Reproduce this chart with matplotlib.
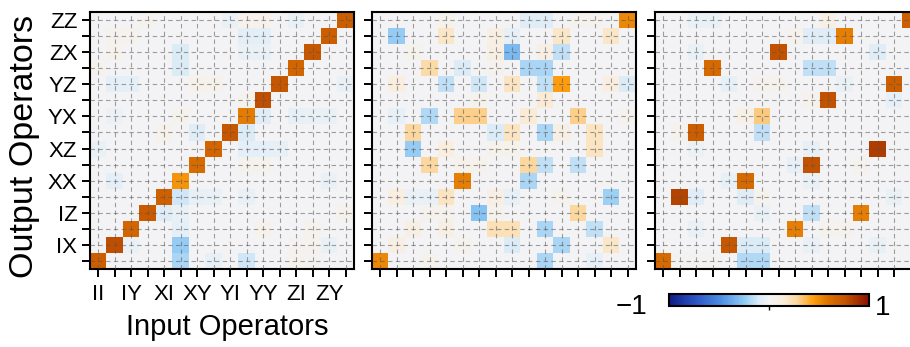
import numpy as np
import matplotlib
matplotlib.use("Agg")
import matplotlib.pyplot as plt
from matplotlib.colors import LinearSegmentedColormap

plt.rcParams['font.family'] = ['Liberation Sans', 'DejaVu Sans']

operators = ['II', 'IX', 'IY', 'IZ', 'XI', 'XX', 'XY', 'XZ',
             'YI', 'YX', 'YY', 'YZ', 'ZI', 'ZX', 'ZY', 'ZZ']

# rows = output operator (bottom to top), columns = input operator
ptm_ideal_like = [
    [0.70, 0, 0, 0, 0, -0.20, 0, -0.05, 0, -0.12, 0, 0, 0.05, 0.03, 0, 0],
    [0, 0.78, -0.04, 0, 0, -0.24, 0, 0, 0, 0, 0, 0, 0.03, 0.05, -0.04, 0],
    [0, 0, 0.66, 0, 0, -0.06, 0, 0, 0, 0, 0.07, 0, 0, 0.04, 0, 0],
    [0, 0, 0, 0.72, -0.08, -0.04, 0, 0, 0, 0, 0, 0, 0, 0, 0, 0.04],
    [0, 0, 0, 0, 0.68, -0.12, -0.05, -0.04, 0, -0.04, 0, 0, 0, 0, 0, 0],
    [0, -0.06, 0, 0, 0, 0.48, 0, 0, 0, 0, 0, 0, 0, 0, -0.04, 0],
    [0, 0, 0, 0, 0, 0, 0.62, 0, 0, 0.04, 0.04, 0, 0, 0, 0, 0],
    [-0.04, 0, 0, 0, 0, 0, 0, 0.66, 0, -0.06, -0.06, -0.05, 0, 0, 0, 0],
    [0, 0, 0, 0, 0.07, 0, -0.08, 0, 0.74, -0.10, 0, 0, 0, 0, 0, 0],
    [0, -0.03, 0, 0, 0, 0.06, 0, 0, 0, 0.56, -0.08, 0, -0.05, -0.04, -0.04, 0],
    [0, 0, 0, 0, 0, 0, 0, 0, 0, 0.05, 0.78, 0, 0, 0, 0, 0],
    [0, -0.06, -0.06, 0, 0, 0, 0.07, 0.07, 0, 0, 0, 0.74, 0, 0, 0, -0.04],
    [0.04, 0, 0, 0, 0, -0.10, 0, 0, 0, 0, 0, 0, 0.66, 0, 0, 0],
    [0, 0.07, 0, 0, 0, -0.10, 0, 0, 0, -0.04, -0.04, 0, 0, 0.74, 0, 0],
    [0, 0.04, 0.04, 0, 0, 0, 0, 0, 0, -0.07, -0.07, 0, 0, 0, 0.70, 0],
    [0, 0, 0, 0.04, 0, 0, 0, 0, -0.04, 0.07, 0.07, 0, -0.04, 0, 0, 0.70],
]

ptm_noisy = [
    [0.52, 0, 0, 0.05, 0, 0, 0, 0, 0, 0, -0.20, 0, 0, -0.05, 0, 0],
    [0, 0.10, 0, 0, 0, 0.05, 0, 0, -0.10, 0, 0, -0.20, 0, 0, 0.18, 0],
    [0, 0, 0.10, 0, 0.10, 0, 0, 0.22, 0.22, 0, -0.20, 0, 0, -0.15, 0, 0],
    [0, 0, 0, 0.05, 0.05, 0, -0.28, 0.05, 0, 0, 0, 0, 0.28, 0, 0, 0],
    [0, 0.12, -0.04, -0.04, 0.20, 0, 0, 0.10, -0.05, 0, 0, 0.05, 0, 0, -0.22, 0],
    [0, 0, 0, 0, 0, 0.55, 0, 0, 0, -0.20, 0, 0, 0, 0, 0, 0],
    [0, 0, 0, 0.28, 0, 0.07, 0.07, 0, 0, 0.28, -0.15, 0, -0.15, 0, 0, 0],
    [0, 0, -0.24, 0, 0.12, 0, 0, 0.06, 0.06, 0, 0, 0, 0, 0.20, 0, 0],
    [0, 0, 0.28, 0, 0, 0, 0, -0.10, 0.20, 0, -0.20, 0.10, 0, 0.20, 0, 0],
    [0, -0.05, 0, -0.18, 0, 0.30, 0.30, 0, 0, 0.15, 0, 0, 0.30, 0, 0, 0.05],
    [0, 0, 0, 0, 0, 0, 0.06, 0, 0, 0, 0.15, 0, 0, 0, 0, 0],
    [0, 0.12, 0, 0, -0.15, 0, -0.12, 0, 0.20, 0, -0.15, 0.45, 0, 0, 0.12, -0.10],
    [0, 0, 0, 0.25, 0, -0.10, 0, 0.05, 0, -0.20, -0.20, 0, 0, 0, 0, 0],
    [0, 0, 0.06, 0, 0, 0, 0, 0.10, -0.32, 0, 0.10, -0.15, 0, 0, 0, 0],
    [0, -0.24, 0, 0, 0.18, 0, 0, 0.10, -0.05, 0, 0, 0.18, 0, 0, 0.18, 0],
    [0, 0, 0, 0, 0.06, 0, 0, 0, 0, -0.08, -0.08, 0, 0.05, 0.05, 0, 0.52],
]

ptm_swap_like = [
    [0.64, 0.03, 0.03, 0.03, 0, -0.18, -0.18, 0, 0, 0, 0, 0, 0, 0, 0, 0],
    [0, 0, 0, 0, 0.74, -0.10, -0.10, 0, 0, -0.04, 0, 0, 0, -0.04, 0, 0],
    [0, 0, -0.04, 0, 0, 0, 0, 0, 0.55, 0, 0.04, 0.04, 0, 0, 0, 0],
    [0, 0, 0, 0, 0, 0, -0.04, 0, 0, -0.15, 0, 0, 0.55, 0, 0, 0],
    [0, 0.82, -0.08, 0, 0, -0.08, 0.04, 0, 0, 0, 0, 0, 0, 0, -0.04, 0],
    [0, 0, 0, 0, -0.05, 0.64, 0, 0, 0, -0.04, 0, 0, 0, 0, 0, 0],
    [0, 0, 0, 0, 0, 0, 0, 0, -0.05, 0.76, 0, 0, 0.04, 0, 0, 0],
    [0, 0, -0.03, 0, 0, 0, 0, 0, 0, -0.05, 0, 0, 0, 0.84, 0, 0],
    [0, 0.04, 0.70, 0, 0, 0, -0.15, 0, 0, 0, 0, 0, 0, 0, 0, 0],
    [0, 0, 0, 0, 0, 0.08, 0.32, 0, 0, 0, 0, 0, 0, 0, 0, 0],
    [0, 0, 0, 0, 0, 0, 0, 0, 0, 0.05, 0.76, 0, 0, 0, -0.05, 0],
    [0, 0, 0, 0, -0.05, 0, 0.05, 0.05, 0, 0, 0, -0.04, 0, 0, 0.70, 0],
    [0, 0, 0, 0.64, 0, 0, 0, 0, 0, -0.15, -0.15, 0, 0, 0, 0, 0],
    [0, 0, -0.04, 0, 0, 0, 0, 0.76, 0, 0, 0, 0, 0, -0.08, 0, 0],
    [0, 0, 0, 0, 0, 0, 0, 0, 0.05, -0.08, -0.08, 0.55, 0, 0, 0, 0],
    [0, 0, -0.04, -0.04, 0, 0, 0, 0, 0, 0, 0.10, 0, 0, 0, 0, 0.70],
]

cmap = LinearSegmentedColormap.from_list('ptm', [
    (0.00, '#0d1b86'),
    (0.12, '#2850c0'),
    (0.25, '#4a8ae0'),
    (0.37, '#8cc8f4'),
    (0.45, '#dcecf8'),
    (0.50, '#f3f4f6'),
    (0.57, '#faeedd'),
    (0.64, '#fcd8a0'),
    (0.72, '#ffa010'),
    (0.80, '#dc7000'),
    (0.88, '#c45400'),
    (1.00, '#8a1000'),
])

W, H = 910, 347
fig = plt.figure(figsize=(W / 100, H / 100), dpi=100)

def fx(px):
    return px / W

def fy(py):
    return 1 - py / H

panel_left = [90, 372, 655]
panel_w = 264
panel_top, panel_bot = 12, 269

mats = [ptm_ideal_like, ptm_noisy, ptm_swap_like]
idx = np.arange(len(operators))
im = None
for k, (left, m) in enumerate(zip(panel_left, mats)):
    ax = fig.add_axes([fx(left), fy(panel_bot), panel_w / W, (panel_bot - panel_top) / H])
    im = ax.imshow(np.array(m), cmap=cmap, vmin=-1, vmax=1, origin='lower',
                   aspect='auto', interpolation='nearest',
                   extent=(-0.5, 15.5, -0.5, 15.5))
    ax.set_xticks(idx)
    ax.set_yticks(idx)
    if k == 0:
        ax.set_xticklabels([o if i % 2 == 0 else '' for i, o in enumerate(operators)])
        ax.set_yticklabels([o if i % 2 == 1 else '' for i, o in enumerate(operators)])
    else:
        ax.set_xticklabels([])
        ax.set_yticklabels([])
    ax.tick_params(direction='out', length=6, width=1.4, labelsize=16, pad=3)
    ax.tick_params(axis='x', pad=5)
    ax.grid(True, color='#555555', linestyle=(0, (4, 3)), linewidth=0.8, alpha=0.55)
    ax.set_axisbelow(False)
    for s in ax.spines.values():
        s.set_linewidth(1.5)
    ax.set_xlim(-0.5, 15.5)
    ax.set_ylim(-0.5, 15.5)

fig.text(fx(227), fy(335), 'Input Operators', ha='center', va='baseline', fontsize=21)
fig.text(fx(25), fy(146), 'Output Operators', ha='center', va='center', rotation=90, fontsize=24.5)

cax = fig.add_axes([fx(669), fy(306), 200 / W, 12 / H])
cb = fig.colorbar(im, cax=cax, orientation='horizontal', ticks=[0])
cb.set_ticklabels([''])
cax.tick_params(length=3, width=1)
cb.outline.set_linewidth(1.5)
fig.text(fx(647), fy(307), '\u22121', ha='right', va='center', fontsize=20)
fig.text(fx(875), fy(308), '1', ha='left', va='center', fontsize=20)

fig.savefig('out.png', dpi=100)
